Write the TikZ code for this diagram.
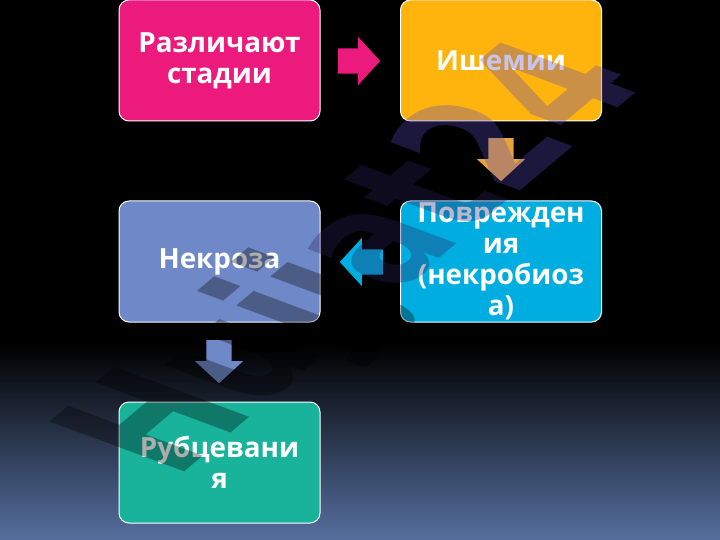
\documentclass[tikz,border=0pt]{standalone}
\usepackage{fontspec}
\setmainfont{Open Sans}
\newfontfamily\wmfont{DejaVu Sans}
\usetikzlibrary{shapes.arrows}
\definecolor{cPink}{HTML}{EC1A7C}
\definecolor{cGold}{HTML}{FFB30D}
\definecolor{cCyan}{HTML}{00ADE0}
\definecolor{cPeri}{HTML}{6F88C8}
\definecolor{cTeal}{HTML}{19B29B}
\definecolor{cBot}{HTML}{566F9E}
\definecolor{cOra}{HTML}{E5A33A}
\definecolor{wmA}{HTML}{000000}
\definecolor{wmB}{HTML}{5A48C0}
\tikzset{
  stagebox/.style={draw=white,line width=1pt,rounded corners=10pt,minimum width=201pt,minimum height=121pt,inner sep=0pt,align=center,text=white,font=\fontsize{27.8}{31}\selectfont\bfseries},
  blockarrow/.style={single arrow,inner sep=12.5pt,minimum width=48pt,single arrow head extend=11.5pt,single arrow tip angle=95,anchor=tail}
}
\begin{document}
\begin{tikzpicture}[x=1pt,y=-1pt]
\useasboundingbox (0,0) rectangle (720,540);
\fill[black] (0,0) rectangle (720,345);
\shade[top color=black,bottom color=cBot] (0,345) rectangle (720,540);
\node[stagebox,fill=cPink] (n1) at (219.5,60.5) {Различают\\стадии};
\node[stagebox,fill=cGold] (n2) at (501,60.5) {Ишемии};
\node[stagebox,fill=cCyan] (n3) at (501,261.5) {\fontsize{27.8}{30.5}\selectfont Поврежден\\ия\\(некробиоз\\а)};
\node[stagebox,fill=cPeri] (n4) at (219.5,261.5) {Некроза};
\node[stagebox,fill=cTeal] (n5) at (219.5,462.5) {Рубцевани\\я};
\node[blockarrow,fill=cPink,minimum height=42pt] (a1) at (338,61) {};
\node[blockarrow,fill=cOra,minimum height=43pt,shape border rotate=270] (a2) at (501,138) {};
\node[blockarrow,fill=cCyan,minimum height=43pt,shape border rotate=180] (a3) at (383,262) {};
\node[blockarrow,fill=cPeri,minimum height=43pt,shape border rotate=270] (a4) at (219,340) {};
\begin{scope}[shift={(175,480)},cm={.995,.835,-1.85,.686,(0,0)}]
\node[transform shape,anchor=base west,inner sep=0pt,text opacity=.32,font=\wmfont\fontsize{100}{100}\selectfont\bfseries] (wm) at (0,0) {\textcolor{wmA}{Hujj}\textcolor{wmB!50!black}{at}\textcolor{wmB}{24}};
\end{scope}
\end{tikzpicture}
\end{document}
